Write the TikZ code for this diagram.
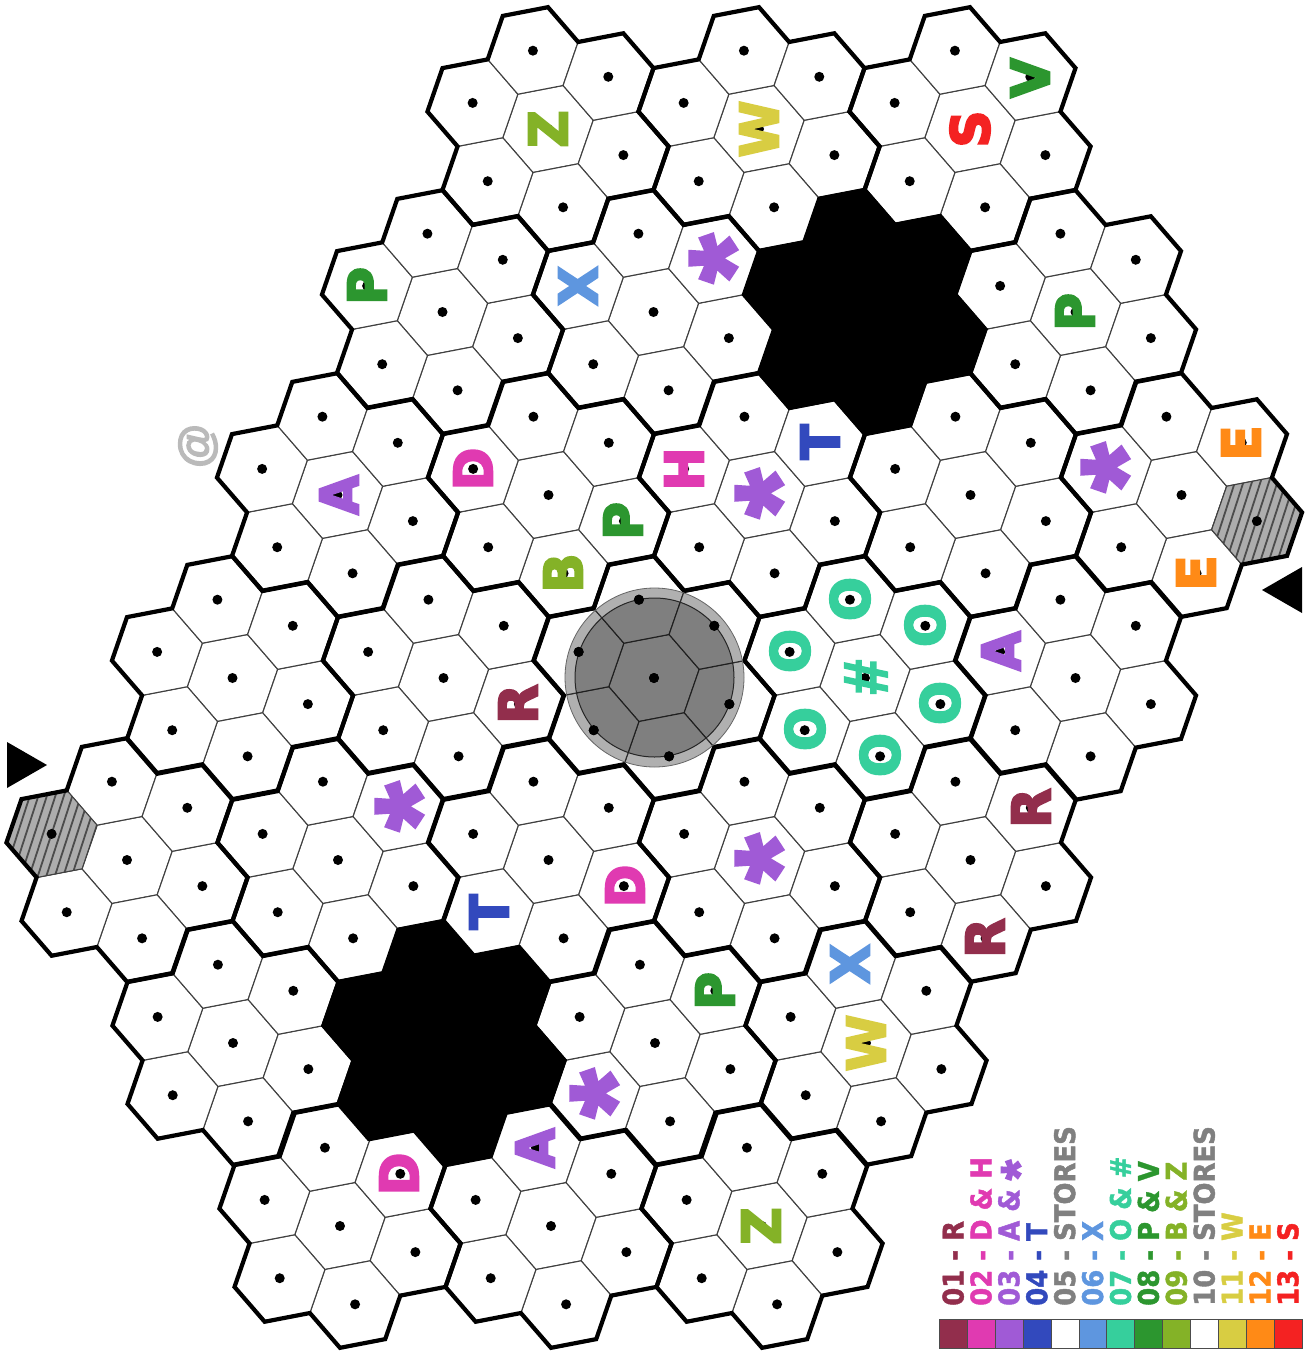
\documentclass[tikz,border=0pt]{standalone}
\usepackage{fontspec}
\setmainfont{Liberation Sans}
\newfontfamily\bigfont[FakeStretch=0.97,FakeBold=4]{DejaVu Sans Bold}
\newfontfamily\legfont[FakeStretch=0.91,FakeBold=1.5]{DejaVu Sans Bold}
\newfontfamily\starfont[FakeBold=3]{Liberation Sans Bold}
\definecolor{cR}{HTML}{922E4C}
\definecolor{cD}{HTML}{E03AB1}
\definecolor{cA}{HTML}{A05AD6}
\definecolor{cT}{HTML}{3249BD}
\definecolor{cX}{HTML}{5E96DF}
\definecolor{cO}{HTML}{36CF9C}
\definecolor{cP}{HTML}{2C962F}
\definecolor{cB}{HTML}{84B227}
\definecolor{cW}{HTML}{D8CD42}
\definecolor{cE}{HTML}{FF8A16}
\definecolor{cS}{HTML}{F42222}
\definecolor{cG}{HTML}{808080}
\tikzset{
  thinedge/.style={draw=black!75,line width=1.1pt,fill=white},
  thickedge/.style={draw=black,line width=4.2pt,miter limit=4},
  hexdot/.style={fill=black},
  bigletter/.style={inner sep=0pt,rotate=90,font=\bigfont\fontsize{53}{53}\selectfont},
  bigstar/.style={inner sep=0pt,rotate=90,font=\starfont\fontsize{124}{124}\selectfont},
  bighash/.style={inner sep=0pt,rotate=90,font=\starfont\fontsize{62}{62}\selectfont},
  legendtext/.style={inner sep=0pt,rotate=90,anchor=base west,font=\legfont\fontsize{28.5}{28.5}\selectfont},
  legendcell/.style={draw=black!70,line width=1pt},
  arrowmark/.style={fill=black,draw=none},
  hatchfill/.style={fill=black!32},
  hatchline/.style={draw=black!70,line width=1.8pt},
}
\newcommand{\hexpath}{(49.1:46.04) -- (109.1:46.04) -- (169.1:46.04) -- (229.1:46.04) -- (289.1:46.04) -- (349.1:46.04) -- cycle}
\newcommand{\cellflower}[2]{%
  \begin{scope}[shift={(#1,#2)}]
    \path[thinedge] \hexpath;
    \foreach \t in {19.1,79.1,...,319.1}{
      \begin{scope}[shift={(\t:79.75)}]
        \path[thinedge] \hexpath;
      \end{scope}
    }
  \end{scope}}
\newcommand{\celldots}[2]{%
  \begin{scope}[shift={(#1,#2)}]
    \fill[hexdot] (0,0) circle[radius=5];
    \foreach \t in {19.1,79.1,...,319.1}{
      \fill[hexdot] (\t:79.75) circle[radius=5];
    }
  \end{scope}}
\newcommand{\outlinepath}{
  ($(19.1:79.75)+(-10.9:46.04)$) -- ($(19.1:79.75)+(49.1:46.04)$) -- ($(19.1:79.75)+(109.1:46.04)$)
  -- ($(79.1:79.75)+(49.1:46.04)$) -- ($(79.1:79.75)+(109.1:46.04)$) -- ($(79.1:79.75)+(169.1:46.04)$)
  -- ($(139.1:79.75)+(109.1:46.04)$) -- ($(139.1:79.75)+(169.1:46.04)$) -- ($(139.1:79.75)+(229.1:46.04)$)
  -- ($(199.1:79.75)+(169.1:46.04)$) -- ($(199.1:79.75)+(229.1:46.04)$) -- ($(199.1:79.75)+(289.1:46.04)$)
  -- ($(259.1:79.75)+(229.1:46.04)$) -- ($(259.1:79.75)+(289.1:46.04)$) -- ($(259.1:79.75)+(349.1:46.04)$)
  -- ($(319.1:79.75)+(289.1:46.04)$) -- ($(319.1:79.75)+(349.1:46.04)$) -- ($(319.1:79.75)+(49.1:46.04)$)
  -- cycle}
\newcommand{\celloutline}[2]{%
  \begin{scope}[shift={(#1,#2)}]
    \draw[thickedge] \outlinepath;
  \end{scope}}
\newcommand{\blackflower}[2]{%
  \begin{scope}[shift={(#1,#2)}]
    \fill[black] \outlinepath;
    \draw[thickedge] \outlinepath;
  \end{scope}}
\newcommand{\hatched}[2]{%
  \begin{scope}[shift={(#1,#2)}]
    \path[hatchfill] \hexpath;
    \begin{scope}
      \clip \hexpath;
      \foreach \s in {-60,-51.5,...,60}{
        \draw[hatchline] (\s,0) ++(108:70) -- ++(288:140);
      }
    \end{scope}
    \draw[thinedge,fill=none] \hexpath;
  \end{scope}}
\usetikzlibrary{calc}
\begin{document}
\begin{tikzpicture}[x=1pt,y=-1pt]
\useasboundingbox (0,0) rectangle (1307,1352);
\def\flowerlist{548/129,759/129,970/129,
  442.5/312,653.5/312,1075.5/312,
  337.5/495,548.5/495,759.5/495,970.5/495,1181.5/495,
  232.5/678,443.5/678,654/678,865/678,1075.5/678,
  127/860,338/860,548.5/860,759.5/860,970.5/860,
  233/1043,655/1043,866/1043,
  340/1226,551/1226,762/1226}
\foreach \x/\y in \flowerlist {\cellflower{\x}{\y}}
\hatched{52}{834}
\hatched{1256.8}{521}
\foreach \x/\y in \flowerlist {\celldots{\x}{\y}\celloutline{\x}{\y}}
\blackflower{865}{312}
\blackflower{444}{1043}
\fill[black,fill opacity=0.31] (654.5,677.5) circle[radius=89.5];
\draw[black!60,line width=.8pt] (654.5,677.5) circle[radius=89.5];
\fill[black,fill opacity=0.273] (654.5,677.5) circle[radius=79.5];
\draw[black!85,line width=1pt] (654.5,677.5) circle[radius=79.5];
\celldots{654}{678}
\coordinate (tla) at (7,742); \coordinate (tlb) at (47,765); \coordinate (tlc) at (7,788);
\coordinate (tra) at (1302,567); \coordinate (trb) at (1262,590); \coordinate (trc) at (1302,613);
\fill[arrowmark] (tla) -- (tlb) -- (tlc) -- cycle;
\fill[arrowmark] (tra) -- (trb) -- (trc) -- cycle;
\node[inner sep=0pt,rotate=90,text=black!27,font=\starfont\fontsize{45}{45}\selectfont] (at) at (198,446) {@};
\foreach \n/\x/\y/\c/\l in {
  z1/548/129/cB/Z, w1/759/129/cW/W, s1/970/129/cS/S, v1/1030/78/cP/V,
  p1/367/286/cP/P, x1/578/286/cX/X, p2/1075/312/cP/P, t1/820/442/cT/T,
  h1/684/469/cD/H, a1/339/495/cA/A, d1/473/469/cD/D, p3/623/521/cP/P,
  b1/563/573/cB/B, e1/1241/443/cE/E, e2/1196/573/cE/E,
  o1/850/599/cO/O, o2/925/625/cO/O, o3/940/703/cO/O, o4/880/755/cO/O,
  o5/805/729/cO/O, o6/790/651/cO/O, a2/1001/651/cA/A, r1/518/704/cR/R,
  r2/1031/808/cR/R, r3/985/938/cR/R, t2/489/912/cT/T, d2/625/886/cD/D,
  x2/850/964/cX/X, w2/866/1043/cW/W, p4/715/991/cP/P, d3/399/1174/cD/D,
  a3/535/1148/cA/A, z2/761/1226/cB/Z
  }{\node[bigletter,text=\c] (\n) at (\x,\y) {\l};}
\foreach \n/\x/\y in {st1/733/258.5, st2/779/493.5, st3/1125/467.5, st4/419/806.5, st5/779/858.5, st6/614/1093.5}
  {\node[bigstar,text=cA] (\n) at (\x,\y) {*};}
\node[bighash,text=cO] (hash) at (866,677) {\#};
\foreach \i/\c/\s in {
  0/cR/01 - R, 1/cD/02 - D \& H, 3/cT/04 - T, 4/cG/05 - STORES, 5/cX/06 - X,
  6/cO/07 - O \& \#, 7/cP/08 - P \& V, 8/cB/09 - B \& Z, 9/cG/10 - STORES,
  10/cW/11 - W, 11/cE/12 - E, 12/cS/13 - S}
  {\node[legendtext,text=\c] (leg\i) at ({963.5+27.9*\i},1306) {\s};}
\node[legendtext,text=cA] (leg2) at ({963.5+27.9*2},1306) {03 - A \& \raisebox{-18pt}{\starfont\fontsize{52}{52}\selectfont *}};
\foreach \i/\c in {0/cR,1/cD,2/cA,3/cT,4/white,5/cX,6/cO,7/cP,8/cB,9/white,10/cW,11/cE,12/cS}
  {\path[legendcell,fill=\c] ({939.5+27.9*\i},1319.5) rectangle ++(27.9,28.5);}
\end{tikzpicture}
\end{document}
